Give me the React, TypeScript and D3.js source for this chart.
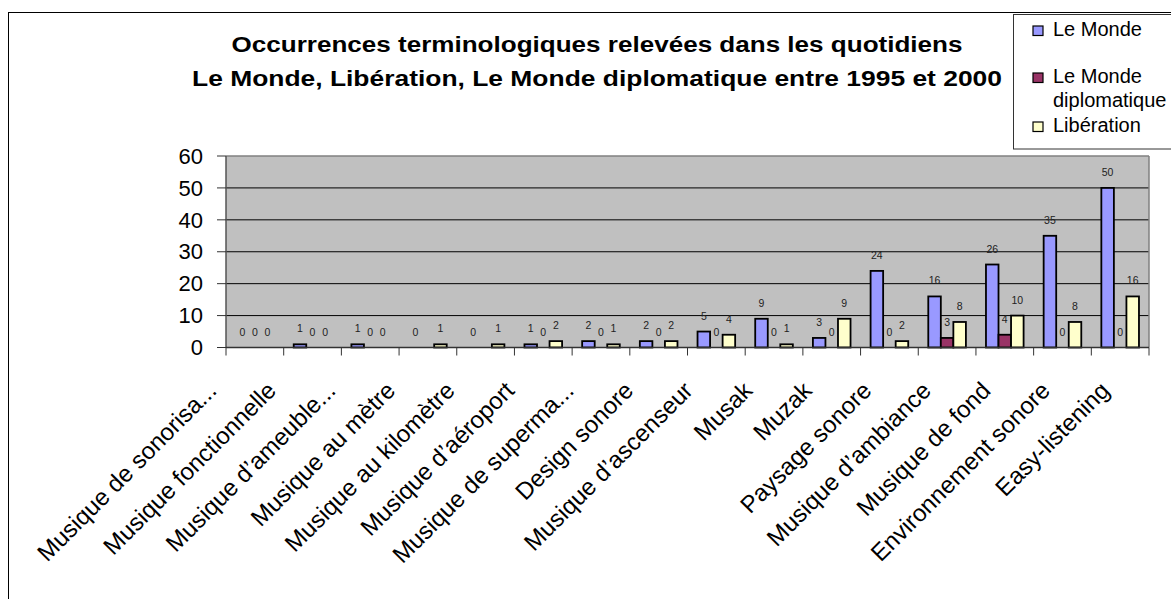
import React from 'react';
import * as d3 from 'd3';

const categories = [
  'Musique de sonorisa...',
  'Musique fonctionnelle',
  'Musique d\u2019ameuble...',
  'Musique au mètre',
  'Musique au kilomètre',
  'Musique d\u2019aéroport',
  'Musique de superma...',
  'Design sonore',
  'Musique d\u2019ascenseur',
  'Musak',
  'Muzak',
  'Paysage sonore',
  'Musique d\u2019ambiance',
  'Musique de fond',
  'Environnement sonore',
  'Easy-listening',
];

const seriesNames = ['Le Monde', 'Le Monde diplomatique', 'Libération'];
const leMonde = [0, 1, 1, 0, 0, 1, 2, 2, 5, 9, 3, 24, 16, 26, 35, 50];
const diplo: (number | null)[] = [0, 0, 0, null, null, 0, 0, 0, 0, 0, 0, 0, 3, 4, 0, 0];
const liberation = [0, 0, 0, 1, 1, 2, 1, 2, 4, 1, 9, 2, 8, 10, 8, 16];
const yTicks = [0, 10, 20, 30, 40, 50, 60];
const colors = ['#9999FF', '#993366', '#FFFFCC'];

const titleLines = [
  'Occurrences terminologiques relevées dans les quotidiens',
  'Le Monde, Libération, Le Monde diplomatique entre 1995 et 2000',
];

const W = 1171;
const H = 599;
const plot = {left: 226, right: 1149, top: 156, bottom: 347.5};

const App = () => {
  const series = [leMonde, diplo, liberation];

  const x = d3.scaleBand<string>().domain(categories).range([plot.left, plot.right]);
  const xs = d3.scaleBand<number>()
    .domain([0, 1, 2])
    .range([0, x.bandwidth()])
    .paddingInner(0)
    .paddingOuter(0.8);
  const y = d3.scaleLinear().domain([0, 60]).range([plot.bottom, plot.top]);
  // rotated category labels end on their own spacing
  const xl = d3.scalePoint<string>().domain(categories).range([218, 1111]);

  const font = '"Liberation Sans", Arial, sans-serif';

  return (
    <svg width={W} height={H} style={{position: 'absolute', left: 0, top: 0, background: '#fff'}} fontFamily={font}>
      {/* chart frame */}
      <rect x={8.5} y={12.5} width={1300} height={800} fill="#fff" stroke="#000" strokeWidth={1} />

      {/* title */}
      <text x={597} y={52} textAnchor="middle" fontWeight="bold" fontSize={21.5} textLength={731} lengthAdjust="spacingAndGlyphs">{titleLines[0]}</text>
      <text x={597} y={86} textAnchor="middle" fontWeight="bold" fontSize={21.5} textLength={810} lengthAdjust="spacingAndGlyphs">{titleLines[1]}</text>

      {/* plot background */}
      <rect x={plot.left} y={plot.top} width={plot.right - plot.left} height={plot.bottom - plot.top} fill="#C0C0C0" />

      {/* grid lines */}
      {yTicks.filter(t => t > 0 && t < 60).map(t => (
        <line key={t} x1={plot.left} x2={plot.right} y1={y(t)} y2={y(t)} stroke="#000" strokeWidth={1} />
      ))}
      <line x1={plot.left} x2={plot.right} y1={plot.top} y2={plot.top} stroke="#808080" strokeWidth={1.5} />
      <line x1={plot.right} x2={plot.right} y1={plot.top} y2={plot.bottom} stroke="#808080" strokeWidth={1.5} />

      {/* bars */}
      {categories.map((c, i) => (
        <g key={c}>
          {series.map((s, k) => {
            const v = s[i];
            if (v === null) return null;
            const bx = (x(c) as number) + (xs(k) as number);
            return (
              <rect key={k} x={bx} y={y(v)} width={xs.bandwidth()} height={plot.bottom - y(v)}
                fill={colors[k]} stroke="#000" strokeWidth={1.8} />
            );
          })}
        </g>
      ))}

      {/* bar value labels */}
      {categories.map((c, i) => (
        <g key={'l' + c}>
          {series.map((s, k) => {
            const v = s[i];
            if (v === null) return null;
            const cx = (x(c) as number) + (xs(k) as number) + xs.bandwidth() / 2;
            return (
              <text key={k} x={cx} y={y(v) - 12} textAnchor="middle" fontSize={10.5} fill="#222">{v}</text>
            );
          })}
        </g>
      ))}

      {/* y axis */}
      <line x1={plot.left} x2={plot.left} y1={plot.top} y2={plot.bottom} stroke="#555" strokeWidth={1.5} />
      {yTicks.map(t => (
        <g key={'y' + t}>
          <line x1={217} x2={plot.left} y1={y(t)} y2={y(t)} stroke="#333" strokeWidth={1} />
          <text x={203} y={y(t)} dy="0.35em" textAnchor="end" fontSize={22}>{t}</text>
        </g>
      ))}

      {/* x axis */}
      <line x1={plot.left} x2={plot.right} y1={plot.bottom} y2={plot.bottom} stroke="#333" strokeWidth={1.5} />
      {[...categories.map(c => x(c) as number), plot.right].map((tx, i) => (
        <line key={'t' + i} x1={tx} x2={tx} y1={plot.bottom} y2={plot.bottom + 8} stroke="#333" strokeWidth={1} />
      ))}
      {categories.map(c => (
        <text key={'x' + c} transform={`translate(${xl(c)}, 392) rotate(-45)`} textAnchor="end" fontSize={24}>{c}</text>
      ))}

      {/* legend */}
      <rect x={1013.5} y={14.5} width={200} height={134.5} fill="#fff" stroke="#333" strokeWidth={1} />
      {seriesNames.map((name, k) => {
        const ty = [36, 83, 132][k];
        return (
          <g key={'lg' + k}>
            <rect x={1033} y={ty - 10} width={10} height={9.5} fill={colors[k]} stroke="#000" strokeWidth={1.2} />
            {k === 1 ? (
              <text x={1053} y={ty} fontSize={20}>
                <tspan x={1053}>Le Monde</tspan>
                <tspan x={1053} dy={24}>diplomatique</tspan>
              </text>
            ) : (
              <text x={1053} y={ty} fontSize={20}>{name}</text>
            )}
          </g>
        );
      })}
    </svg>
  );
};

export default App;
